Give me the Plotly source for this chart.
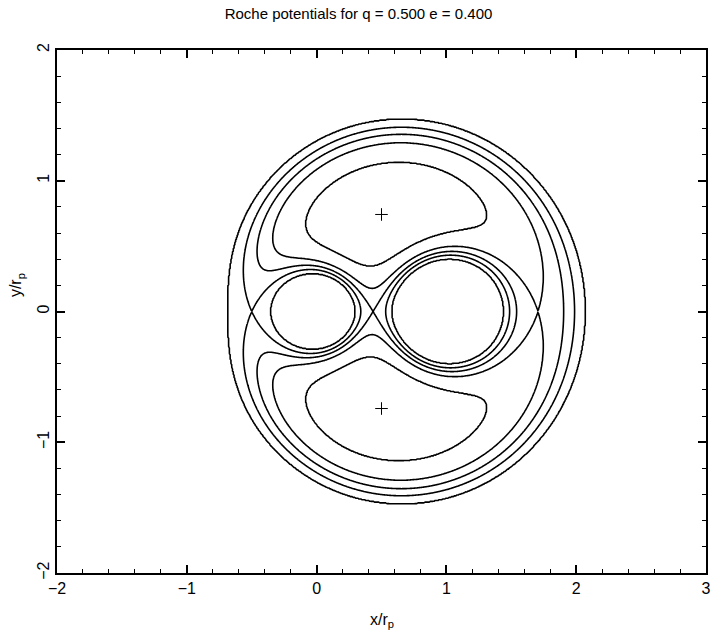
import numpy as np
import plotly.graph_objects as go

# ---- parameters / data ----
q = 0.5            # mass ratio (title)
e = 0.4            # eccentricity (title)
levels = [-3.24, -3.09583, -2.97569, -2.84374, -2.59]   # contour levels of the potential
marker_x = [0.5, 0.5]          # "+" marks (L4 / L5)
marker_y = [0.742, -0.742]
x_ticks = [-2, -1, 0, 1, 2, 3]
y_ticks = [-2, -1, 0, 1, 2]
title_text = "Roche potentials for q = 0.500 e = 0.400"

# ---- potential field (periastron: A = 1 + e) ----
A = 1.0 + e
xc = 1.0 / (1.0 + q)
gx = np.linspace(-0.9, 2.28, 531)
gy = np.linspace(-1.62, 1.62, 541)
X, Y = np.meshgrid(gx, gy)
r1 = np.maximum(np.hypot(X, Y), 1e-3)
r2 = np.maximum(np.hypot(X - 1.0, Y), 1e-3)
phi = -q / r1 - 1.0 / r2 - 0.5 * A * (1.0 + q) * ((X - xc) ** 2 + Y ** 2)

# monotonic remap so that the irregular levels become 1,2,3,...
xp = [levels[0] - 10.0] + levels + [levels[-1] + 10.0]
fp = list(range(len(xp)))
z = np.interp(np.maximum(phi, xp[0]), xp, fp)
z = np.round(z, 4)

fig = go.Figure()
fig.add_trace(go.Contour(
    x=gx, y=gy, z=z,
    autocontour=False,
    contours=dict(start=1, end=len(levels), size=1, coloring='none'),
    line=dict(color='black', width=1.6, smoothing=0.8),
    showscale=False, hoverinfo='skip'
))
fig.add_trace(go.Scatter(
    x=marker_x, y=marker_y, mode='markers',
    marker=dict(symbol='cross-thin', size=9, line=dict(color='black', width=1)),
    hoverinfo='skip'
))

font = dict(family='Liberation Sans, Arial, sans-serif', color='black')
axis_common = dict(
    showgrid=False, zeroline=False, showline=True, linecolor='black', linewidth=2,
    mirror='ticks', ticks='inside', ticklen=8, tickwidth=1.5, tickcolor='black',
    tickfont=dict(size=16, **font),
    minor=dict(ticks='inside', ticklen=4, tickwidth=1.2, tickcolor='black'),
)
fig.update_xaxes(range=[-2, 3], tickvals=x_ticks, minor_dtick=0.2, **axis_common)
fig.update_yaxes(range=[-2, 2], tickvals=y_ticks, minor_dtick=0.2, tickangle=-90, **axis_common)

fig.update_layout(
    width=717, height=642,
    margin=dict(l=57, r=6, t=50, b=69),
    plot_bgcolor='white', paper_bgcolor='white', showlegend=False,
    title=dict(text=title_text, x=0.5, xref='container', xanchor='center',
               y=1 - 14 / 642, yref='container', yanchor='middle',
               font=dict(size=15, **font)),
    annotations=[
        dict(text='x/r<sub>p</sub>', xref='paper', yref='paper', x=0.5, y=-0.09,
             xanchor='center', yanchor='middle', showarrow=False, font=dict(size=16, **font)),
        dict(text='y/r<sub>p</sub>', xref='paper', yref='paper', x=-0.062, y=0.55,
             xanchor='center', yanchor='middle', textangle=-90, showarrow=False,
             font=dict(size=16, **font)),
    ],
)
fig.write_html("out.html")
